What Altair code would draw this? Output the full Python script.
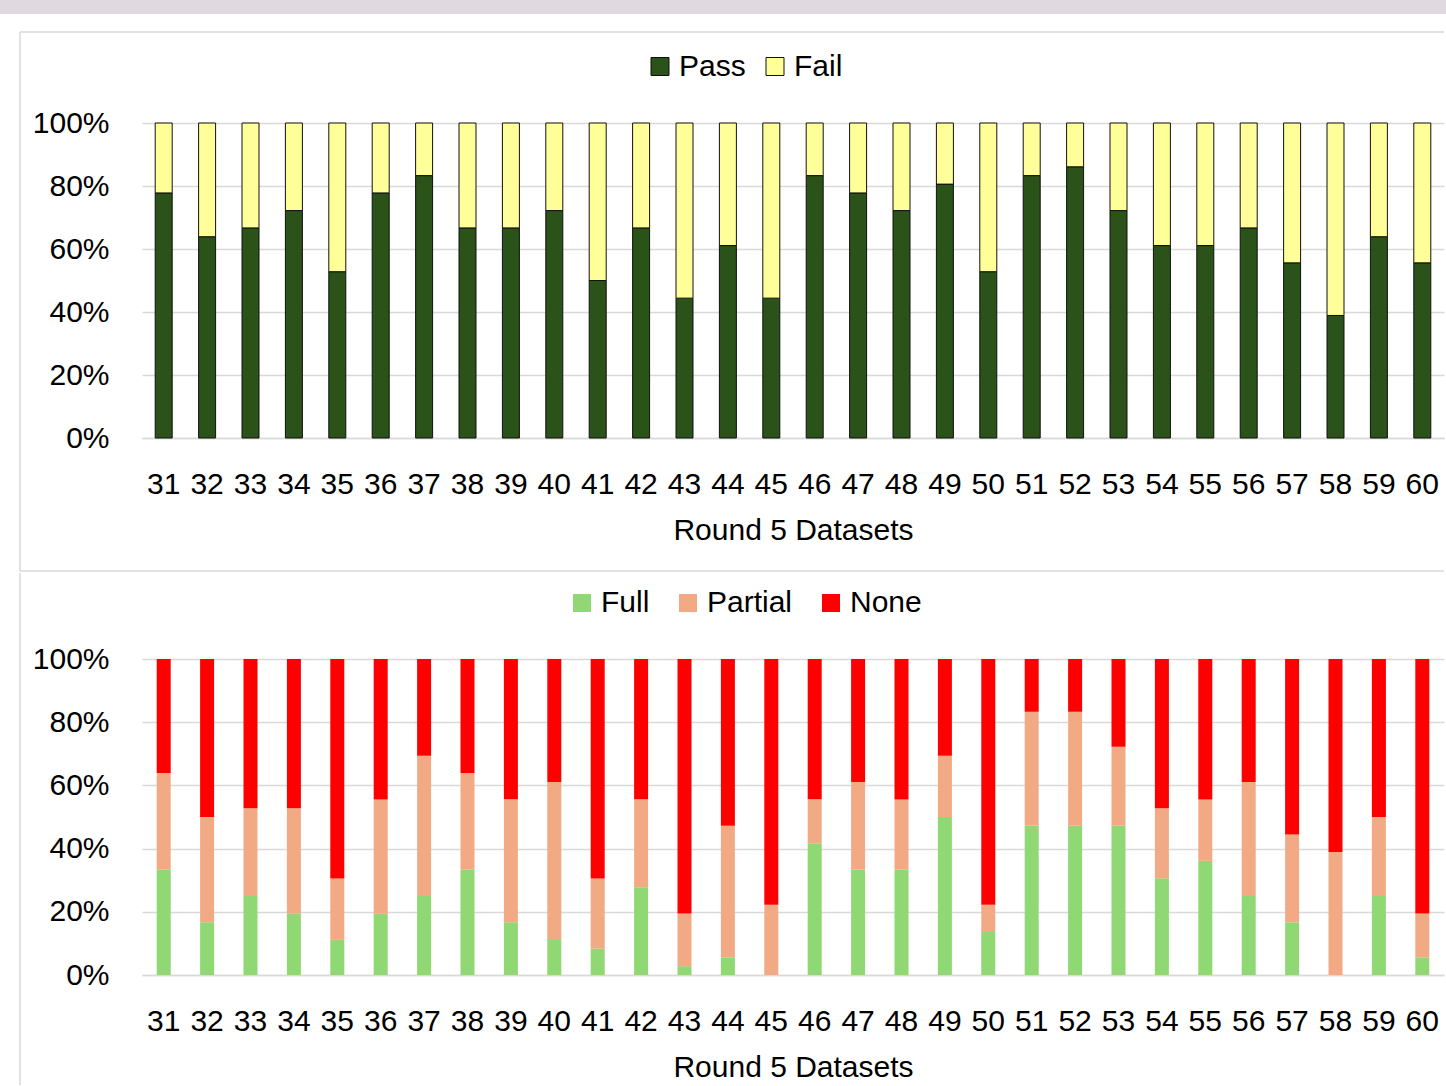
import altair as alt
import pandas as pd

datasets = [str(i) for i in range(31, 61)]

pass_pct = [77.8, 63.9, 66.7, 72.2, 52.8, 77.8, 83.3, 66.7, 66.7, 72.2,
            50.0, 66.7, 44.4, 61.1, 44.4, 83.3, 77.8, 72.2, 80.6, 52.8,
            83.3, 86.1, 72.2, 61.1, 61.1, 66.7, 55.6, 38.9, 63.9, 55.6]
fail_pct = [22.2, 36.1, 33.3, 27.8, 47.2, 22.2, 16.7, 33.3, 33.3, 27.8,
            50.0, 33.3, 55.6, 38.9, 55.6, 16.7, 22.2, 27.8, 19.4, 47.2,
            16.7, 13.9, 27.8, 38.9, 38.9, 33.3, 44.4, 61.1, 36.1, 44.4]

full_pct = [33.3, 16.7, 25.0, 19.4, 11.1, 19.4, 25.0, 33.3, 16.7, 11.1,
            8.3, 27.8, 2.8, 5.6, 0.0, 41.7, 33.3, 33.3, 50.0, 13.9,
            47.2, 47.2, 47.2, 30.6, 36.1, 25.0, 16.7, 0.0, 25.0, 5.6]
partial_pct = [30.6, 33.3, 27.8, 33.3, 19.4, 36.1, 44.4, 30.6, 38.9, 50.0,
               22.2, 27.8, 16.7, 41.7, 22.2, 13.9, 27.8, 22.2, 19.4, 8.3,
               36.1, 36.1, 25.0, 22.2, 19.4, 36.1, 27.8, 38.9, 25.0, 13.9]
none_pct = [36.1, 50.0, 47.2, 47.2, 69.4, 44.4, 30.6, 36.1, 44.4, 38.9,
            69.4, 44.4, 80.6, 52.8, 77.8, 44.4, 38.9, 44.4, 30.6, 77.8,
            16.7, 16.7, 27.8, 47.2, 44.4, 38.9, 55.6, 61.1, 50.0, 80.6]

top_cats = ["Pass", "Fail"]
top_colors = ["#2a5219", "#ffff99"]
bot_cats = ["Full", "Partial", "None"]
bot_colors = ["#8fd873", "#f2aa84", "#ff0000"]
y_ticks = [0, 0.2, 0.4, 0.6, 0.8, 1.0]

FONT = "Liberation Sans, Arial, sans-serif"
GRID = "#d9d9d9"
W, H = 1302, 315


def long_df(cats, series):
    rows = []
    for k, (c, vals) in enumerate(zip(cats, series)):
        for d, v in zip(datasets, vals):
            rows.append({"Dataset": d, "Result": c, "Value": v, "Order": k})
    return pd.DataFrame(rows)


def x_enc():
    return alt.X("Dataset:N", sort=datasets,
                 scale=alt.Scale(paddingInner=0, paddingOuter=0),
                 axis=alt.Axis(title="Round 5 Datasets", labelAngle=0, ticks=False, tickSize=0,
                               domainColor=GRID, domainWidth=1.5, grid=False,
                               labelPadding=31, labelFontSize=30, labelColor="black",
                               labelFont=FONT, titleFont=FONT, titleFontSize=30,
                               titleFontWeight="normal", titleColor="black",
                               titleBaseline="alphabetic", titleY=101))


def y_enc():
    return alt.Y("Value:Q", stack="normalize", scale=alt.Scale(domain=[0, 1]),
                 axis=alt.Axis(title=None, format=".0%", values=y_ticks, domain=False,
                               ticks=False, tickSize=0, grid=True, gridColor=GRID,
                               gridWidth=1.5, labelPadding=33, labelFontSize=30,
                               labelColor="black", labelFont=FONT))


def legend(x, y, stroke, colpad):
    return alt.Legend(title=None, orient="none", legendX=x, legendY=y,
                      direction="horizontal", symbolType="square", symbolSize=324,
                      symbolStrokeColor=stroke, symbolStrokeWidth=1 if stroke else 0,
                      labelFontSize=30, labelFont=FONT, labelColor="black",
                      labelOffset=4, columnPadding=colpad, padding=0, symbolOpacity=1)


one = pd.DataFrame({"k": [0]})

# ---- top panel ----
top_bars = alt.Chart(long_df(top_cats, [pass_pct, fail_pct])).mark_bar(
    size=17, stroke="#111111", strokeWidth=1
).encode(
    x=x_enc(), y=y_enc(),
    color=alt.Color("Result:N", scale=alt.Scale(domain=top_cats, range=top_colors),
                    legend=legend(503, -71.5, "#111111", 14)),
    order=alt.Order("Order:Q"),
)
band = alt.Chart(one).mark_rect(color="#e0d9e0").encode(
    x=alt.value(-142), x2=alt.value(1304), y=alt.value(-123), y2=alt.value(-109))
top_border = alt.Chart(one).mark_rule(color=GRID, strokeWidth=1.5).encode(
    x=alt.value(-122), x2=alt.value(1302), y=alt.value(-91))
left_top = alt.Chart(one).mark_rule(color=GRID, strokeWidth=1.5).encode(
    x=alt.value(-122), y=alt.value(-91), y2=alt.value(448))
sep = alt.Chart(one).mark_rule(color=GRID, strokeWidth=1.5).encode(
    x=alt.value(-122), x2=alt.value(1302), y=alt.value(448))

top = alt.layer(band, top_border, left_top, sep, top_bars).properties(width=W, height=H)

# ---- bottom panel ----
bot_bars = alt.Chart(long_df(bot_cats, [full_pct, partial_pct, none_pct])).mark_bar(
    size=14
).encode(
    x=x_enc(), y=y_enc(),
    color=alt.Color("Result:N", scale=alt.Scale(domain=bot_cats, range=bot_colors),
                    legend=legend(425, -71, None, 23)),
    order=alt.Order("Order:Q"),
)
left_bot = alt.Chart(one).mark_rule(color=GRID, strokeWidth=1.5).encode(
    x=alt.value(-122), y=alt.value(-86), y2=alt.value(426))
spacer = alt.Chart(one).mark_rule(opacity=0, strokeWidth=1.5).encode(
    x=alt.value(-142), y=alt.value(-86), y2=alt.value(-85))

bottom = alt.layer(left_bot, spacer, bot_bars).properties(width=W, height=316)

chart = alt.vconcat(top, bottom, spacing=0).resolve_scale(color="independent").properties(
    padding=0, background="white"
).configure(font=FONT).configure_view(stroke=None)

chart.save("out.html", embed_options={"renderer": "svg", "actions": False})
